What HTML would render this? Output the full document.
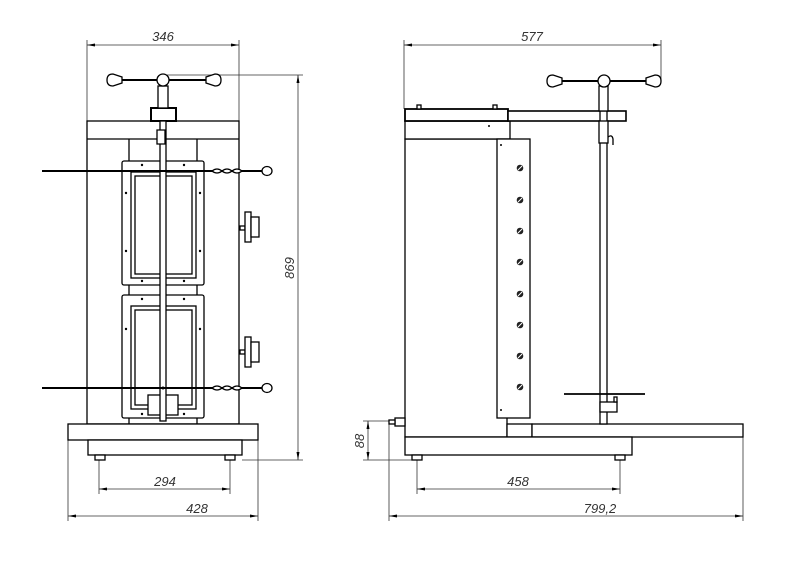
<!DOCTYPE html>
<html><head><meta charset="utf-8"><style>html,body{margin:0;padding:0;background:#fff}svg{display:block}</style></head>
<body>
<svg width="800" height="565" viewBox="0 0 800 565" xmlns="http://www.w3.org/2000/svg" font-family="Liberation Sans, sans-serif">
<defs>
<marker id="a" markerWidth="8" markerHeight="4" refX="8" refY="2" orient="auto-start-reverse" markerUnits="userSpaceOnUse"><path d="M0,0.5 L8,2 L0,3.5z" fill="#000"/></marker>
<g id="scr"><circle r="3.3" fill="#222"/><line x1="-2" y1="2" x2="2" y2="-2" stroke="#fff" stroke-width="1"/></g>
</defs>
<g stroke="#333" stroke-width="0.8" fill="none">
<line x1="87" y1="40" x2="87" y2="121"/><line x1="239" y1="40" x2="239" y2="121"/>
<line x1="87" y1="45" x2="239" y2="45" marker-start="url(#a)" marker-end="url(#a)"/>
<line x1="165" y1="75" x2="303" y2="75"/><line x1="242" y1="460" x2="303" y2="460"/>
<line x1="298" y1="75" x2="298" y2="460" marker-start="url(#a)" marker-end="url(#a)"/>
<line x1="99" y1="455" x2="99" y2="494"/><line x1="230" y1="455" x2="230" y2="494"/>
<line x1="99" y1="489" x2="230" y2="489" marker-start="url(#a)" marker-end="url(#a)"/>
<line x1="68" y1="440" x2="68" y2="521"/><line x1="258" y1="440" x2="258" y2="521"/>
<line x1="68" y1="516" x2="258" y2="516" marker-start="url(#a)" marker-end="url(#a)"/>
<line x1="404" y1="40" x2="404" y2="109"/><line x1="661" y1="40" x2="661" y2="80"/>
<line x1="404" y1="45" x2="661" y2="45" marker-start="url(#a)" marker-end="url(#a)"/>
<line x1="363" y1="421" x2="395" y2="421"/><line x1="363" y1="460" x2="412" y2="460"/>
<line x1="368" y1="421" x2="368" y2="460" marker-start="url(#a)" marker-end="url(#a)"/>
<line x1="417" y1="455" x2="417" y2="494"/><line x1="620" y1="455" x2="620" y2="494"/>
<line x1="417" y1="489" x2="620" y2="489" marker-start="url(#a)" marker-end="url(#a)"/>
<line x1="389" y1="421" x2="389" y2="521"/><line x1="743" y1="437" x2="743" y2="521"/>
<line x1="389" y1="516" x2="743" y2="516" marker-start="url(#a)" marker-end="url(#a)"/>
</g>
<g font-size="13" font-style="italic" fill="#333" text-anchor="middle">
<text x="163" y="41">346</text><text x="532" y="41">577</text>
<text x="165" y="486">294</text><text x="197" y="513">428</text>
<text x="518" y="486">458</text><text x="600" y="513">799,2</text>
<text transform="translate(294,268) rotate(-90)">869</text>
<text transform="translate(364,441) rotate(-90)">88</text>
</g>
<g stroke="#000" stroke-width="1.3" fill="#fff">
<rect x="87" y="121" width="152" height="303"/>
<line x1="87" y1="139" x2="239" y2="139"/>
<line x1="129" y1="139" x2="129" y2="161"/><line x1="197" y1="139" x2="197" y2="161"/>
<line x1="129" y1="285" x2="129" y2="295"/><line x1="197" y1="285" x2="197" y2="295"/>
<line x1="129" y1="418" x2="129" y2="424"/><line x1="197" y1="418" x2="197" y2="424"/>
<rect x="122" y="161" width="82" height="124" rx="2"/>
<rect x="131" y="172" width="65" height="106"/><rect x="135" y="176" width="57" height="98"/>
<rect x="122" y="295" width="82" height="123" rx="2"/>
<rect x="131" y="306" width="65" height="103"/><rect x="135" y="310" width="57" height="95"/>
<rect x="148" y="395" width="30" height="20"/>
<rect x="68" y="424" width="190" height="16"/>
<rect x="88" y="440" width="154" height="15"/>
<rect x="95" y="455" width="10" height="5"/><rect x="225" y="455" width="10" height="5"/>
<rect x="151" y="108" width="25" height="13" stroke-width="2"/>
<rect x="158" y="86" width="10" height="22"/>
<rect x="160" y="121" width="6" height="300"/>
<path d="M157 130 h8 v14 h-8z"/>
<line x1="108" y1="80" x2="220" y2="80" stroke-width="2"/>
<path d="M107 80 q0-6 6-6 l9 3 v6 l-9 3 q-6 0-6-6z"/><path d="M221 80 q0-6-6-6 l-9 3 v6 l9 3 q6 0 6-6z"/>
<circle cx="163" cy="80" r="6"/>
<line x1="42" y1="171" x2="262" y2="171" stroke-width="2"/>
<line x1="42" y1="388" x2="262" y2="388" stroke-width="2"/>
<path d="M212 171 q5-4 10 0 q5 4 10 0 q5-4 10 0 q-5 4-10 0 q-5-4-10 0 q-5 4-10 0"/>
<path d="M212 388 q5-4 10 0 q5 4 10 0 q5-4 10 0 q-5 4-10 0 q-5-4-10 0 q-5 4-10 0"/>
<ellipse cx="267" cy="171" rx="5" ry="4.5"/><ellipse cx="267" cy="388" rx="5" ry="4.5"/>
<rect x="240" y="226" width="5" height="4"/><rect x="245" y="212" width="6" height="30"/><rect x="251" y="217" width="8" height="20"/>
<rect x="240" y="350" width="5" height="4"/><rect x="245" y="337" width="6" height="30"/><rect x="251" y="342" width="8" height="20"/>
</g>
<g fill="#000">
<circle cx="142" cy="165" r="1.2"/><circle cx="184" cy="165" r="1.2"/><circle cx="126" cy="193" r="1.2"/><circle cx="200" cy="193" r="1.2"/>
<circle cx="126" cy="251" r="1.2"/><circle cx="200" cy="251" r="1.2"/><circle cx="142" cy="281" r="1.2"/><circle cx="184" cy="281" r="1.2"/>
<circle cx="142" cy="299" r="1.2"/><circle cx="184" cy="299" r="1.2"/><circle cx="126" cy="329" r="1.2"/><circle cx="200" cy="329" r="1.2"/>
<circle cx="142" cy="414" r="1.2"/><circle cx="184" cy="414" r="1.2"/><circle cx="163" cy="388" r="1.5"/>
</g>
<g stroke="#000" stroke-width="1.3" fill="#fff">
<rect x="405" y="139" width="102" height="298"/>
<rect x="405" y="121" width="105" height="18"/>
<rect x="405" y="109" width="103" height="12" stroke-width="1.8"/>
<rect x="508" y="111" width="118" height="10" stroke-width="1.6"/>
<rect x="417" y="105" width="4" height="4"/><rect x="493" y="105" width="4" height="4"/>
<rect x="497" y="139" width="33" height="279"/>
<rect x="507" y="424" width="25" height="13"/>
<rect x="532" y="424" width="211" height="13"/>
<rect x="405" y="437" width="227" height="18"/>
<rect x="412" y="455" width="10" height="5"/><rect x="615" y="455" width="10" height="5"/>
<rect x="600" y="111" width="7" height="313"/>
<rect x="599" y="86" width="9" height="25"/>
<rect x="599" y="121" width="9" height="22"/>
<path d="M608 137 q4-3 5 2 v6" fill="none"/>
<line x1="548" y1="81" x2="660" y2="81" stroke-width="2"/>
<path d="M547 81 q0-6 6-6 l9 3 v6 l-9 3 q-6 0-6-6z"/><path d="M661 81 q0-6-6-6 l-9 3 v6 l9 3 q6 0 6-6z"/>
<circle cx="604" cy="81" r="6"/>
<line x1="564" y1="394" x2="645" y2="394" stroke-width="1.8"/>
<rect x="600" y="402" width="17" height="10"/><rect x="614" y="397" width="3" height="5"/>
<rect x="395" y="418" width="10" height="8"/><rect x="389" y="420" width="6" height="4"/>
</g>
<use href="#scr" x="520" y="168"/><use href="#scr" x="520" y="200"/><use href="#scr" x="520" y="231"/><use href="#scr" x="520" y="262"/>
<use href="#scr" x="520" y="294"/><use href="#scr" x="520" y="325"/><use href="#scr" x="520" y="356"/><use href="#scr" x="520" y="387"/>
<g fill="#000">
<circle cx="489" cy="126" r="1"/><circle cx="501" cy="145" r="1"/><circle cx="501" cy="410" r="1"/>
</g>
</svg>
</body></html>
